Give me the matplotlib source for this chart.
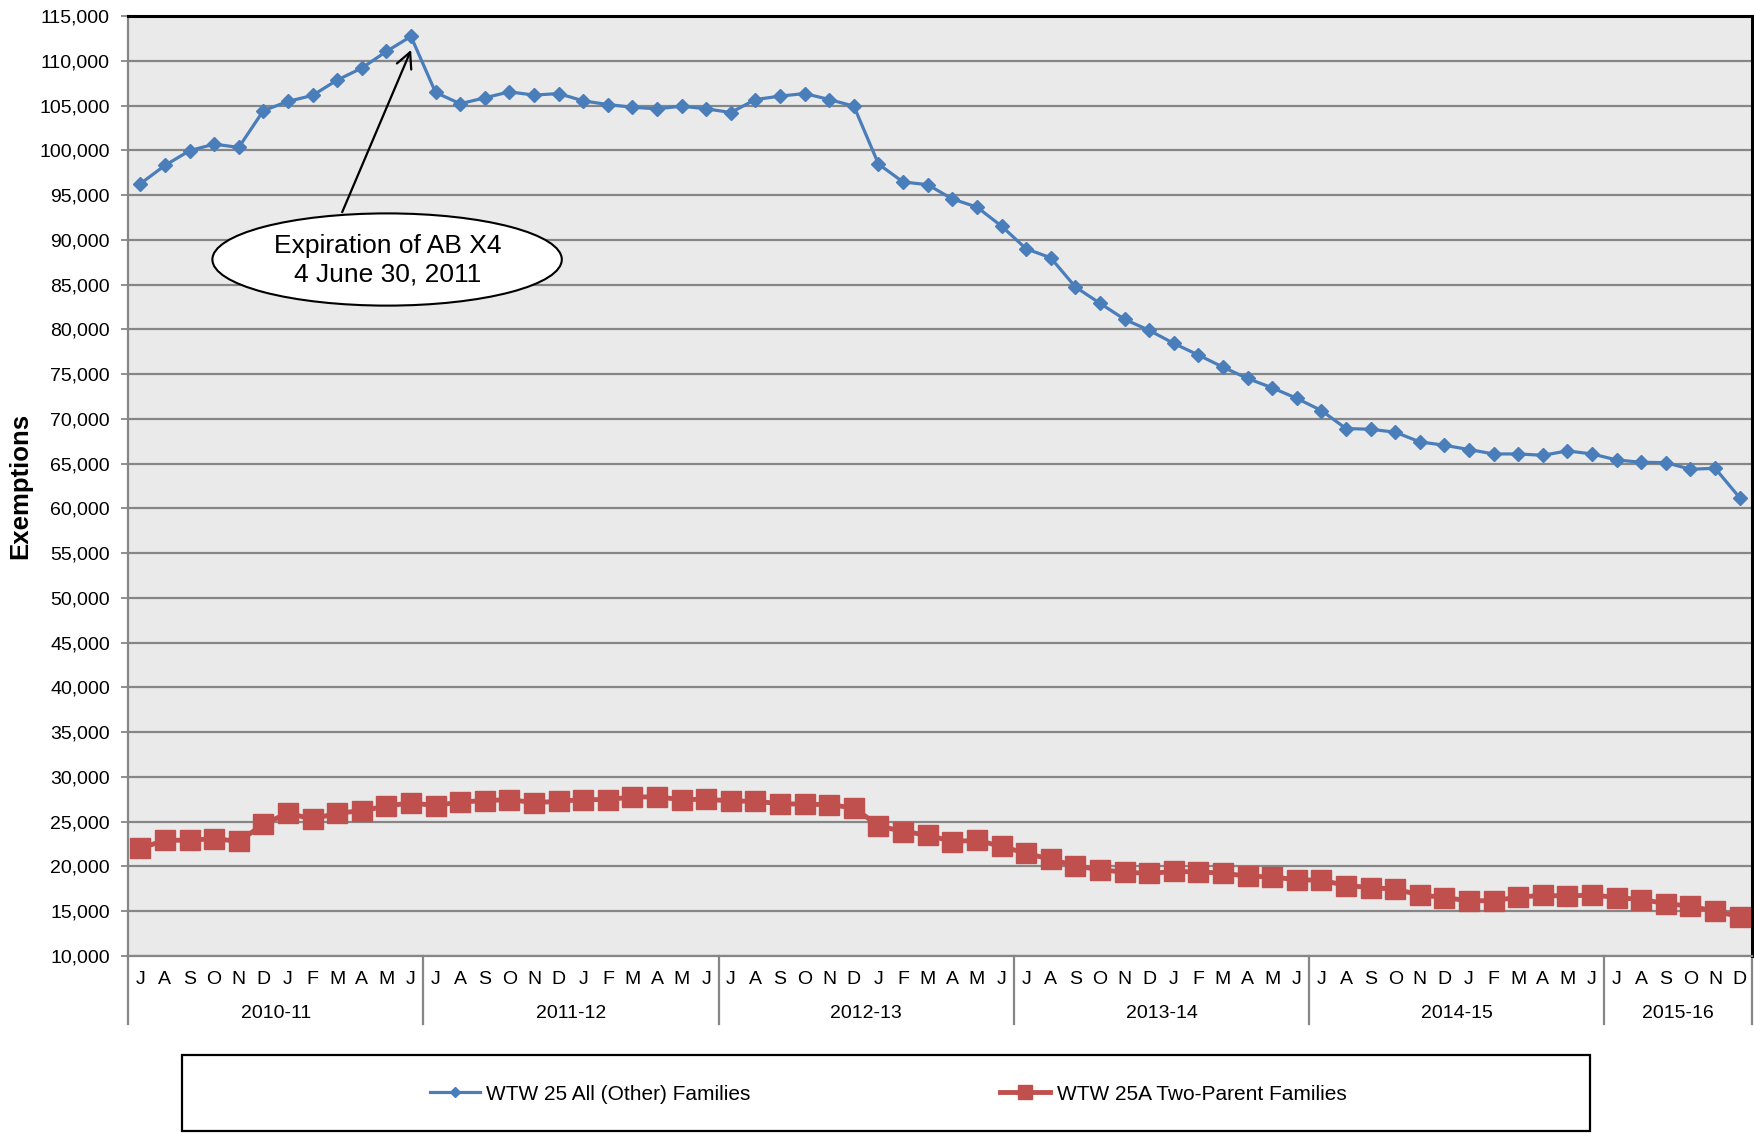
import numpy as np
import matplotlib
matplotlib.use('Agg')
import matplotlib.pyplot as plt
from matplotlib.patches import Ellipse, Rectangle
from matplotlib.lines import Line2D
from matplotlib.ticker import FuncFormatter, MultipleLocator
import matplotlib.transforms as mtransforms

plt.rcParams['font.family'] = ['Liberation Sans', 'DejaVu Sans']

# ── DATA ────────────────────────────────────────────────
months = ['J', 'A', 'S', 'O', 'N', 'D', 'J', 'F', 'M', 'A', 'M', 'J'] * 5 + ['J', 'A', 'S', 'O', 'N', 'D']
fiscal_years = ['2010-11', '2011-12', '2012-13', '2013-14', '2014-15', '2015-16']
fy_lengths = [12, 12, 12, 12, 12, 6]

wtw25 = [
    96260, 98310, 99950, 100690, 100320, 104420, 105460, 106130, 107840, 109180, 111040, 112720,
    106460, 105200, 105860, 106530, 106160, 106340, 105520, 105110, 104810, 104630, 104930, 104630,
    104220, 105670, 106050, 106340, 105670, 104930, 98460, 96460, 96160, 94560, 93660, 91530,
    89000, 87990, 84740, 82910, 81120, 79890, 78430, 77130, 75780, 74510, 73470, 72290,
    70930, 68920, 68840, 68510, 67430, 67050, 66570, 66080, 66080, 65930, 66420, 66080,
    65410, 65150, 65110, 64370, 64480, 61190,
]
wtw25a = [
    22030, 22930, 22930, 23110, 22810, 24700, 25980, 25270, 25980, 26200, 26760, 27100,
    26800, 27210, 27350, 27470, 27130, 27280, 27470, 27470, 27770, 27770, 27470, 27510,
    27320, 27280, 27020, 26950, 26910, 26540, 24560, 23900, 23520, 22780, 22930, 22250,
    21460, 20820, 20070, 19630, 19370, 19220, 19440, 19400, 19250, 18920, 18840, 18510,
    18470, 17870, 17650, 17460, 16830, 16530, 16160, 16190, 16570, 16790, 16680, 16830,
    16530, 16310, 15860, 15560, 15000, 14400,
]

blue = '#4A7EBB'
red = '#C0504D'
grid_gray = '#868686'

x = np.arange(len(months))

fig = plt.figure(figsize=(17.54, 11.33), dpi=100)
ax = fig.add_axes([128/1754, 1-956/1133, (1752-128)/1754, (956-16)/1133])
ax.set_facecolor('#eaeaea')

ax.plot(x, wtw25, color=blue, lw=2.3, marker='D', ms=7.5, mec=blue, mfc=blue,
        label='WTW 25 All (Other) Families', zorder=4)
ax.plot(x, wtw25a, color=red, lw=3.5, marker='s', ms=14, mec=red, mfc=red,
        label='WTW 25A Two-Parent Families', zorder=3)

ax.set_xlim(-0.5, len(months) - 0.5)
ax.set_ylim(10000, 115000)
ax.yaxis.set_major_locator(MultipleLocator(5000))
ax.yaxis.set_major_formatter(FuncFormatter(lambda v, p: f'{int(v):,}'))
ax.grid(axis='y', color=grid_gray, lw=1.6, zorder=1)
ax.set_axisbelow(True)

ax.set_xticks(x)
ax.set_xticklabels(months, fontsize=14)
ax.tick_params(axis='x', length=0, pad=11)
ax.tick_params(axis='y', length=5, width=1.3, color=grid_gray, direction='out', pad=8, labelsize=14)

for s in ['left', 'bottom']:
    ax.spines[s].set_color(grid_gray)
    ax.spines[s].set_linewidth(1.6)
for s in ['top', 'right']:
    ax.spines[s].set_color('black')
    ax.spines[s].set_linewidth(2.2)

# fiscal year groups under the month labels
trans = mtransforms.blended_transform_factory(ax.transData, ax.transAxes)
edges = np.concatenate([[0], np.cumsum(fy_lengths)]) - 0.5
for e in edges:
    ax.add_line(Line2D([e, e], [0, -0.0723], transform=trans, color=grid_gray, lw=1.6, clip_on=False))
for fy, a, b in zip(fiscal_years, edges[:-1], edges[1:]):
    ax.text((a + b) / 2, -0.0615, fy, transform=trans, ha='center', va='center', fontsize=14)

# annotation ellipse + arrow
ax.add_patch(Ellipse((10.03, 87800), 14.2, 10300, facecolor='white', edgecolor='black', lw=1.5, zorder=5))
ax.text(10.05, 87700, 'Expiration of AB X4\n4 June 30, 2011', ha='center', va='center',
        fontsize=19, linespacing=1.25, zorder=6)
ax.annotate('', xy=(11.05, 111500), xytext=(8.16, 92800),
            arrowprops=dict(arrowstyle='->', lw=1.6, color='black', mutation_scale=28), zorder=6)

fig.text(20/1754, 1-486/1133, 'Exemptions', rotation=90, ha='center', va='center',
         fontsize=18.5, fontweight='bold')

# legend box
fig.add_artist(Rectangle((182/1754, 1-1131/1133), (1590-182)/1754, (1131-1055)/1133,
                         transform=fig.transFigure, fill=False, edgecolor='black', lw=1.6))
fig.legend(loc='center', bbox_to_anchor=(888/1754, 1-1094/1133), ncol=2, frameon=False,
           fontsize=15, handlelength=2.4, handletextpad=0.3, columnspacing=12, markerscale=0.7)

plt.savefig('out.png', dpi=100)
